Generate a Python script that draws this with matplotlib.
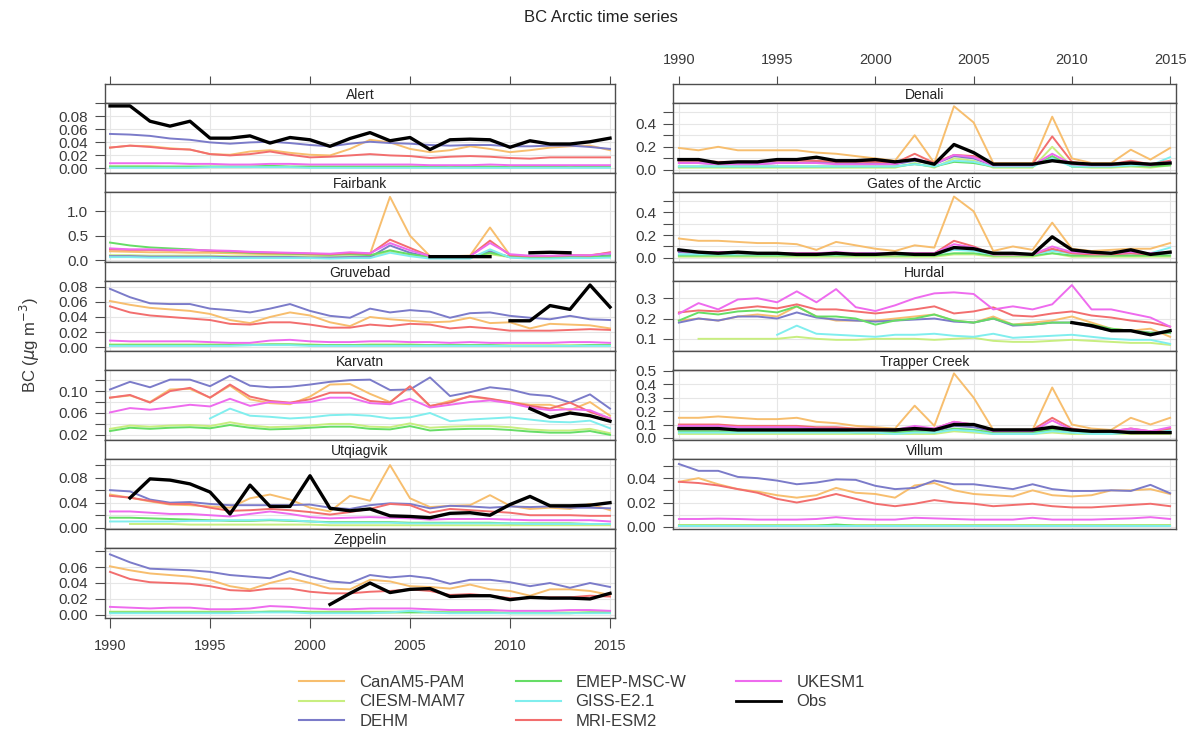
import numpy as np
import matplotlib.pyplot as plt
from matplotlib.lines import Line2D

plt.rcParams['font.family'] = ['Liberation Sans', 'DejaVu Sans']

nan = float('nan')
years = list(range(1990, 2016))
models = ['CanAM5-PAM', 'CIESM-MAM7', 'DEHM', 'EMEP-MSC-W', 'GISS-E2.1', 'MRI-ESM2', 'UKESM1', 'Obs']
colors = ['#F7BE6E', '#C8EE80', '#7B7BC9', '#66DD66', '#80EEEE', '#F26E6E', '#EE6BEE', '#000000']

# ---- Alert
alert_canam = [.032,.035,.034,.031,.029,.022,.021,.026,.028,.024,.021,.020,.030,.044,.040,.030,.025,.028,.034,.030,.025,.028,.032,.034,.035,.028]
alert_ciesm = [.003,.003,.003,.002,.002,.002,.002,.002,.003,.002,.002,.002,.002,.002,.002,.002,.002,.002,.002,.002,.002,.002,.002,.002,.002,.002]
alert_dehm = [.053,.052,.050,.046,.044,.040,.038,.040,.041,.039,.036,.034,.038,.041,.039,.038,.036,.035,.036,.036,.034,.034,.035,.035,.033,.030]
alert_emep = [.003,.003,.003,.003,.003,.003,.003,.003,.004,.003,.003,.003,.003,.003,.003,.003,.003,.002,.003,.003,.002,.003,.003,.002,.003,.003]
alert_giss = [.001,.001,.001,.001,.001,.002,.002,.002,.002,.002,.001,.001,.001,.001,.001,.001,.001,.001,.001,.001,.001,.001,.001,.001,.001,.001]
alert_mri = [.032,.035,.033,.030,.029,.022,.020,.022,.026,.021,.017,.018,.020,.022,.020,.019,.016,.018,.019,.018,.016,.015,.017,.017,.017,.017]
alert_ukesm = [.008,.008,.008,.008,.007,.007,.006,.006,.007,.007,.006,.006,.006,.006,.006,.006,.005,.005,.005,.006,.005,.005,.005,.005,.005,.005]
alert_obs = [.096,.096,.0725,.065,.0725,.0465,.0465,.050,.039,.0475,.044,.034,.046,.055,.0425,.0475,.029,.044,.045,.044,.0325,.0425,.0375,.0375,.041,.0465]

# ---- Fairbank
fair_canam = [.18,.17,.16,.16,.15,.15,.14,.13,.12,.12,.11,.10,.14,.12,1.30,.50,.08,.08,.09,.67,.10,.08,.08,.10,.10,.15]
fair_ciesm = [.10,.10,.09,.09,.09,.09,.08,.08,.08,.08,.07,.07,.08,.07,.18,.10,.05,.05,.05,.12,.06,.05,.05,.06,.06,.07]
fair_dehm = [.08,.08,.07,.07,.07,.07,.06,.06,.06,.06,.05,.05,.06,.06,.30,.15,.06,.05,.05,.18,.06,.05,.05,.06,.06,.10]
fair_emep = [.36,.30,.26,.24,.22,.19,.17,.15,.14,.13,.12,.11,.12,.10,.20,.12,.06,.05,.06,.15,.07,.05,.05,.06,.06,.08]
fair_giss = [.06,.06,.05,.05,.05,.05,.04,.04,.04,.04,.04,.03,.04,.04,.15,.08,.03,.03,.03,.22,.05,.03,.03,.04,.04,.05]
fair_mri = [.22,.21,.21,.20,.20,.19,.18,.16,.15,.14,.13,.12,.14,.13,.42,.25,.08,.07,.08,.40,.10,.08,.08,.10,.09,.16]
fair_ukesm = [.24,.22,.22,.21,.21,.20,.19,.17,.16,.15,.14,.13,.16,.14,.35,.20,.08,.07,.08,.35,.12,.09,.09,.10,.10,.14]
fair_obs = [nan,nan,nan,nan,nan,nan,nan,nan,nan,nan,nan,nan,nan,nan,nan,nan,.07,.07,.07,.07,nan,.15,.16,.15,nan,nan]

# ---- Gruvebad
gruv_canam = [.061,.056,.052,.050,.048,.044,.036,.032,.040,.046,.042,.033,.028,.040,.037,.035,.033,.034,.039,.032,.033,.025,.031,.030,.029,.025]
gruv_ciesm = [.004,.004,.004,.004,.004,.004,.004,.004,.004,.004,.004,.003,.003,.004,.004,.004,.003,.003,.003,.003,.003,.003,.003,.003,.003,.003]
gruv_dehm = [.077,.066,.058,.057,.057,.051,.049,.046,.051,.057,.048,.0415,.039,.051,.046,.049,.047,.039,.045,.046,.0415,.039,.037,.0415,.037,.036]
gruv_emep = [.003,.003,.003,.003,.003,.003,.003,.003,.004,.004,.003,.003,.003,.003,.003,.003,.003,.003,.003,.003,.002,.002,.002,.002,.003,.003]
gruv_giss = [.002,.002,.002,.002,.002,.002,.002,.003,.003,.003,.002,.002,.002,.002,.002,.002,.002,.002,.002,.002,.002,.002,.002,.002,.002,.002]
gruv_mri = [.054,.046,.042,.040,.038,.036,.031,.030,.033,.033,.030,.026,.026,.030,.028,.031,.030,.025,.027,.025,.022,.022,.022,.023,.024,.023]
gruv_ukesm = [.009,.008,.008,.008,.008,.007,.006,.006,.009,.010,.008,.007,.007,.008,.008,.007,.007,.006,.007,.006,.006,.006,.006,.007,.007,.006]
gruv_obs = [nan,nan,nan,nan,nan,nan,nan,nan,nan,nan,nan,nan,nan,nan,nan,nan,nan,nan,nan,nan,.035,.035,.055,.050,.082,.053]

# ---- Karvatn
karv_canam = [.088,.092,.080,.103,.104,.088,.110,.085,.078,.076,.090,.112,.113,.095,.080,.108,.072,.082,.090,.085,.080,.075,.075,.065,.080,.055]
karv_ciesm = [.031,.037,.035,.037,.038,.036,.043,.037,.034,.035,.037,.040,.040,.035,.034,.041,.033,.035,.036,.036,.034,.030,.028,.028,.031,.023]
karv_dehm = [.103,.117,.107,.121,.121,.109,.128,.110,.107,.108,.112,.117,.120,.121,.102,.103,.125,.091,.098,.107,.103,.094,.091,.079,.094,.068]
karv_emep = [.027,.033,.031,.033,.034,.032,.038,.033,.030,.031,.033,.035,.035,.031,.030,.036,.028,.030,.031,.031,.029,.026,.024,.024,.027,.020]
karv_giss = [nan,nan,nan,nan,nan,.050,.068,.055,.053,.050,.052,.056,.057,.055,.050,.052,.060,.045,.048,.050,.052,.048,.044,.043,.046,.032]
karv_mri = [.088,.093,.079,.100,.106,.088,.112,.090,.082,.079,.085,.097,.097,.082,.079,.109,.073,.079,.091,.086,.080,.073,.068,.079,.062,.050]
karv_ukesm = [.061,.069,.066,.070,.075,.072,.086,.073,.080,.078,.080,.088,.088,.078,.076,.086,.070,.075,.080,.083,.078,.070,.065,.067,.065,.050]
karv_obs = [nan,nan,nan,nan,nan,nan,nan,nan,nan,nan,nan,nan,nan,nan,nan,nan,nan,nan,nan,nan,nan,.068,.052,.060,.055,.045]

# ---- Utqiagvik
utq_canam = [.053,.048,.042,.037,.036,.034,.032,.047,.053,.045,.032,.026,.051,.043,.100,.047,.033,.035,.036,.052,.035,.030,.032,.030,.038,.028]
utq_ciesm = [nan,.006,.006,.006,.005,.005,.005,.005,.005,.005,.005,.004,.004,.004,.004,.004,.004,.004,.004,.004,.004,.004,.004,.004,.004,.004]
utq_dehm = [.060,.058,.045,.040,.041,.038,.036,.036,.036,.036,.037,.032,.030,.036,.039,.038,.031,.035,.034,.032,.034,.033,.034,.032,.032,.031]
utq_emep = [.016,.016,.015,.014,.013,.012,.011,.011,.012,.011,.010,.009,.009,.009,.009,.008,.008,.008,.008,.008,.007,.007,.007,.007,.006,.006]
utq_giss = [.010,.010,.010,.010,.011,.011,.012,.012,.013,.012,.010,.008,.008,.008,.008,.007,.007,.007,.007,.007,.007,.006,.006,.006,.006,.006]
utq_mri = [.051,.048,.043,.038,.038,.032,.027,.028,.030,.028,.025,.021,.025,.030,.038,.036,.024,.030,.028,.026,.024,.020,.020,.020,.019,.019]
utq_ukesm = [.026,.026,.024,.022,.022,.020,.018,.022,.026,.022,.017,.015,.016,.017,.016,.015,.013,.014,.014,.014,.013,.012,.012,.012,.012,.010]
utq_obs = [nan,.0476,.078,.076,.070,.057,.022,.068,.034,.034,.083,.031,.027,.030,.019,.018,.016,.023,.024,.020,.037,.050,.035,.035,.036,.040]

# ---- Zeppelin
zep_canam = [.061,.056,.052,.050,.048,.044,.036,.032,.040,.046,.040,.033,.032,.044,.042,.036,.035,.033,.038,.032,.030,.024,.032,.032,.030,.025]
zep_ciesm = [.004,.004,.004,.004,.004,.004,.004,.004,.004,.004,.004,.004,.004,.004,.004,.004,.004,.003,.003,.003,.003,.003,.003,.003,.003,.003]
zep_dehm = [.076,.066,.058,.057,.056,.054,.050,.048,.046,.055,.048,.042,.040,.050,.047,.049,.046,.039,.044,.044,.041,.036,.040,.034,.040,.035]
zep_emep = [.003,.003,.003,.003,.003,.003,.003,.003,.004,.004,.003,.003,.003,.003,.003,.003,.003,.003,.003,.003,.002,.002,.002,.002,.003,.003]
zep_giss = [.002,.002,.002,.002,.002,.002,.002,.003,.003,.003,.002,.002,.002,.002,.003,.005,.003,.002,.002,.002,.002,.002,.002,.002,.002,.002]
zep_mri = [.054,.045,.041,.040,.039,.036,.031,.030,.033,.033,.029,.027,.027,.029,.030,.032,.030,.025,.026,.024,.021,.021,.022,.022,.024,.023]
zep_ukesm = [.010,.009,.008,.009,.009,.007,.007,.008,.011,.010,.008,.007,.007,.008,.008,.008,.007,.006,.006,.006,.005,.005,.005,.006,.006,.005]
zep_obs = [nan,nan,nan,nan,nan,nan,nan,nan,nan,nan,nan,.013,.027,.040,.028,.032,.033,.023,.024,.024,.019,.022,.021,.021,.020,.027]

# ---- Denali
den_canam = [.19,.17,.20,.17,.17,.17,.17,.15,.14,.12,.10,.08,.30,.06,.55,.41,.06,.06,.06,.46,.10,.06,.06,.175,.09,.19]
den_ciesm = [.02,.02,.02,.02,.02,.02,.02,.02,.02,.02,.02,.02,.06,.02,.10,.08,.02,.02,.02,.20,.03,.02,.02,.03,.02,.04]
den_dehm = [.06,.06,.05,.05,.05,.06,.06,.07,.06,.06,.06,.05,.08,.05,.12,.10,.04,.04,.04,.10,.05,.04,.04,.05,.04,.06]
den_emep = [.03,.03,.03,.03,.03,.03,.03,.03,.03,.03,.03,.03,.05,.03,.07,.06,.03,.03,.03,.12,.03,.03,.03,.04,.03,.04]
den_giss = [.03,.03,.03,.03,.03,.03,.03,.03,.03,.03,.03,.03,.05,.03,.08,.07,.03,.03,.03,.10,.03,.03,.03,.04,.04,.11]
den_mri = [.08,.08,.07,.07,.07,.08,.08,.08,.07,.07,.07,.06,.14,.06,.13,.12,.05,.05,.05,.29,.07,.05,.05,.08,.05,.08]
den_ukesm = [.06,.06,.05,.05,.05,.06,.06,.06,.05,.05,.05,.05,.10,.05,.13,.11,.04,.04,.04,.14,.05,.04,.04,.06,.04,.07]
den_obs = [.09,.09,.06,.07,.07,.09,.09,.11,.08,.08,.09,.07,.09,.05,.22,.15,.05,.05,.05,.08,.06,.05,.05,.06,.05,.06]

# ---- Gates of the Arctic
gat_canam = [.17,.15,.15,.14,.13,.13,.12,.07,.14,.11,.08,.06,.11,.09,.54,.41,.06,.10,.07,.31,.08,.06,.07,.08,.08,.13]
gat_ciesm = [.01,.01,.01,.01,.01,.01,.01,.01,.01,.01,.01,.01,.01,.01,.03,.03,.01,.01,.01,.04,.01,.01,.01,.01,.01,.01]
gat_dehm = [.05,.04,.04,.04,.04,.04,.04,.04,.04,.04,.04,.03,.04,.04,.09,.08,.03,.03,.03,.07,.04,.03,.03,.04,.03,.04]
gat_emep = [.02,.02,.02,.02,.02,.02,.02,.02,.02,.02,.02,.02,.02,.02,.04,.04,.02,.02,.02,.04,.02,.02,.02,.02,.02,.02]
gat_giss = [.03,.03,.03,.03,.03,.03,.03,.03,.03,.03,.03,.03,.03,.03,.07,.06,.03,.03,.03,.06,.04,.03,.03,.04,.04,.09]
gat_mri = [.06,.05,.05,.04,.04,.04,.04,.04,.04,.04,.03,.03,.04,.04,.15,.10,.03,.03,.03,.08,.04,.03,.03,.04,.03,.05]
gat_ukesm = [.06,.05,.05,.05,.04,.04,.04,.04,.05,.04,.04,.04,.04,.04,.12,.09,.03,.03,.03,.10,.05,.04,.04,.05,.04,.05]
gat_obs = [.07,.05,.04,.05,.04,.04,.03,.03,.04,.03,.03,.04,.03,.03,.09,.08,.04,.04,.03,.185,.07,.05,.04,.07,.03,.05]

# ---- Hurdal
hur_canam = [.19,.20,.19,.21,.22,.21,.26,.21,.19,.19,.19,.20,.21,.22,.19,.18,.21,.17,.18,.19,.21,.18,.15,.14,.15,.11]
hur_ciesm = [nan,.10,.10,.10,.10,.10,.11,.10,.095,.095,.10,.10,.10,.095,.10,.105,.09,.085,.085,.09,.095,.09,.085,.08,.08,.07]
hur_dehm = [.18,.20,.19,.21,.21,.20,.23,.205,.195,.19,.185,.19,.195,.20,.185,.18,.20,.165,.17,.18,.18,.16,.14,.14,.13,.13]
hur_emep = [.19,.23,.22,.235,.24,.23,.26,.21,.21,.20,.17,.19,.20,.22,.19,.18,.20,.17,.17,.18,.18,.17,.15,.14,.13,.13]
hur_giss = [nan,nan,nan,nan,nan,.12,.165,.125,.12,.115,.11,.12,.12,.125,.115,.11,.125,.105,.11,.115,.12,.11,.10,.095,.095,.075]
hur_mri = [.23,.24,.235,.25,.26,.25,.27,.245,.245,.235,.225,.235,.245,.26,.225,.235,.255,.215,.21,.225,.235,.215,.205,.19,.18,.16]
hur_ukesm = [.224,.276,.245,.294,.30,.28,.334,.28,.345,.256,.237,.265,.30,.324,.329,.321,.245,.26,.245,.27,.365,.245,.245,.225,.205,.16]
hur_obs = [nan,nan,nan,nan,nan,nan,nan,nan,nan,nan,nan,nan,nan,nan,nan,nan,nan,nan,nan,nan,.18,.165,.14,.14,.12,.14]

# ---- Trapper Creek
trap_canam = [.15,.15,.16,.15,.14,.14,.15,.12,.11,.09,.08,.07,.24,.09,.48,.30,.06,.06,.06,.375,.10,.07,.06,.15,.10,.15]
trap_ciesm = [.03,.03,.03,.03,.03,.03,.03,.03,.03,.03,.03,.03,.03,.03,.05,.04,.03,.03,.03,.04,.03,.03,.03,.03,.03,.03]
trap_dehm = [.07,.07,.07,.06,.06,.06,.06,.06,.06,.06,.06,.05,.06,.05,.09,.08,.05,.05,.05,.07,.05,.04,.04,.05,.05,.06]
trap_emep = [.05,.05,.05,.05,.05,.05,.05,.05,.05,.04,.04,.04,.05,.04,.07,.06,.04,.04,.04,.06,.04,.04,.04,.04,.04,.04]
trap_giss = [.04,.04,.04,.04,.04,.04,.04,.04,.04,.04,.04,.03,.04,.04,.06,.05,.03,.03,.03,.05,.04,.03,.03,.04,.04,.06]
trap_mri = [.10,.10,.10,.09,.09,.09,.09,.08,.08,.07,.07,.06,.08,.07,.12,.10,.06,.06,.06,.15,.07,.05,.05,.07,.05,.07]
trap_ukesm = [.09,.09,.09,.08,.08,.08,.08,.07,.07,.06,.06,.06,.09,.07,.12,.10,.05,.05,.05,.13,.06,.05,.05,.07,.05,.08]
trap_obs = [.07,.07,.07,.06,.06,.06,.06,.06,.06,.06,.06,.06,.07,.06,.10,.10,.06,.06,.06,.08,.06,.05,.05,.04,.04,.04]

# ---- Villum
vil_canam = [.037,.040,.035,.031,.029,.026,.024,.026,.032,.028,.027,.024,.034,.036,.030,.027,.026,.025,.030,.026,.025,.026,.030,.030,.031,.027]
vil_ciesm = [.0015,.0015,.0015,.0015,.0015,.0015,.0015,.0015,.0015,.0015,.0015,.0015,.0015,.0015,.0015,.0015,.0015,.0015,.0015,.0015,.0015,.0015,.0015,.0015,.0015,.0015]
vil_dehm = [.0516,.046,.046,.041,.040,.038,.035,.0364,.039,.0386,.0337,.031,.032,.038,.035,.035,.033,.031,.035,.031,.0295,.0295,.030,.0295,.0345,.0276]
vil_emep = [.001,.001,.001,.001,.001,.001,.001,.001,.002,.001,.001,.001,.001,.001,.001,.001,.001,.001,.001,.001,.001,.001,.001,.001,.001,.001]
vil_giss = [.0005,.0005,.0005,.0005,.0005,.0005,.0005,.0005,.0005,.0005,.0005,.0005,.0005,.0005,.0005,.0005,.0005,.0005,.0005,.0005,.0005,.0005,.0005,.0005,.0005,.0005]
vil_mri = [.037,.036,.034,.031,.028,.023,.020,.023,.027,.023,.019,.017,.019,.022,.020,.019,.017,.018,.019,.017,.016,.016,.017,.018,.019,.017]
vil_ukesm = [.0065,.0065,.0068,.0065,.006,.006,.006,.0065,.008,.0065,.006,.006,.0075,.007,.0065,.006,.006,.006,.0075,.006,.006,.006,.0065,.007,.008,.0065]
vil_obs = [nan] * 26

stations = {
    'Alert': [alert_canam, alert_ciesm, alert_dehm, alert_emep, alert_giss, alert_mri, alert_ukesm, alert_obs],
    'Fairbank': [fair_canam, fair_ciesm, fair_dehm, fair_emep, fair_giss, fair_mri, fair_ukesm, fair_obs],
    'Gruvebad': [gruv_canam, gruv_ciesm, gruv_dehm, gruv_emep, gruv_giss, gruv_mri, gruv_ukesm, gruv_obs],
    'Karvatn': [karv_canam, karv_ciesm, karv_dehm, karv_emep, karv_giss, karv_mri, karv_ukesm, karv_obs],
    'Utqiagvik': [utq_canam, utq_ciesm, utq_dehm, utq_emep, utq_giss, utq_mri, utq_ukesm, utq_obs],
    'Zeppelin': [zep_canam, zep_ciesm, zep_dehm, zep_emep, zep_giss, zep_mri, zep_ukesm, zep_obs],
    'Denali': [den_canam, den_ciesm, den_dehm, den_emep, den_giss, den_mri, den_ukesm, den_obs],
    'Gates of the Arctic': [gat_canam, gat_ciesm, gat_dehm, gat_emep, gat_giss, gat_mri, gat_ukesm, gat_obs],
    'Hurdal': [hur_canam, hur_ciesm, hur_dehm, hur_emep, hur_giss, hur_mri, hur_ukesm, hur_obs],
    'Trapper Creek': [trap_canam, trap_ciesm, trap_dehm, trap_emep, trap_giss, trap_mri, trap_ukesm, trap_obs],
    'Villum': [vil_canam, vil_ciesm, vil_dehm, vil_emep, vil_giss, vil_mri, vil_ukesm, vil_obs],
}

# panel y limits, tick positions, labelled ticks
yaxes = {
    'Alert': ((-0.007, 0.1005), [0, .02, .04, .06, .08, .10], [0, .02, .04, .06, .08], '%.2f'),
    'Fairbank': ((-0.04, 1.40), [0, .5, 1.0], [0, .5, 1.0], '%.1f'),
    'Gruvebad': ((-0.0047, 0.0873), [0, .02, .04, .06, .08], [0, .02, .04, .06, .08], '%.2f'),
    'Karvatn': ((0.0106, 0.1386), [.02, .04, .06, .08, .10, .12], [.02, .06, .10], '%.2f'),
    'Utqiagvik': ((-0.002, 0.1097), [0, .02, .04, .06, .08, .10], [0, .04, .08], '%.2f'),
    'Zeppelin': ((-0.004, 0.084), [0, .02, .04, .06, .08], [0, .02, .04, .06], '%.2f'),
    'Denali': ((-0.026, 0.578), [0, .1, .2, .3, .4, .5], [0, .2, .4], '%.1f'),
    'Gates of the Arctic': ((-0.037, 0.58), [0, .1, .2, .3, .4, .5], [0, .2, .4], '%.1f'),
    'Hurdal': ((0.04, 0.385), [.1, .2, .3], [.1, .2, .3], '%.1f'),
    'Trapper Creek': ((-0.015, 0.505), [0, .1, .2, .3, .4, .5], [0, .1, .2, .3, .4, .5], '%.1f'),
    'Villum': ((-0.0017, 0.0557), [0, .01, .02, .03, .04, .05], [0, .02, .04], '%.2f'),
}

left_col = ['Alert', 'Fairbank', 'Gruvebad', 'Karvatn', 'Utqiagvik', 'Zeppelin']
right_col = ['Denali', 'Gates of the Arctic', 'Hurdal', 'Trapper Creek', 'Villum']

W, H = 1202, 738
fig = plt.figure(figsize=(W / 100, H / 100), dpi=100)
frame = '#4d4d4d'
txt = '#3a3a3a'

cols = [(105, 615, (1989.75, 2015.25)), (673, 1176, (1989.7, 2015.3))]
xt = [1990, 1995, 2000, 2005, 2010, 2015]


def box(ax):
    for s in ax.spines.values():
        s.set_color(frame)
        s.set_linewidth(1.0)


for c, names in enumerate([left_col, right_col]):
    x0, x1, xl = cols[c]
    for r, name in enumerate(names):
        top = 84 + 89 * r
        strip = fig.add_axes([x0 / W, 1 - (top + 19) / H, (x1 - x0) / W, 19 / H])
        strip.set_xlim(*xl)
        strip.set_yticks([])
        strip.set_xticks([])
        box(strip)
        strip.text(0.5, 0.42, name, transform=strip.transAxes, ha='center', va='center',
                   fontsize=10, color='#222222')
        if r == 0:
            strip.set_xticks(xt)
            strip.tick_params(axis='x', which='both', top=True, bottom=False, labeltop=(c == 1),
                              labelbottom=False, direction='out', length=6, color=frame,
                              labelsize=10.5, labelcolor=txt, pad=6)

        ax = fig.add_axes([x0 / W, 1 - (top + 89) / H, (x1 - x0) / W, 70 / H])
        ylim, ticks, labs, fmt = yaxes[name]
        ax.set_xlim(*xl)
        ax.set_ylim(*ylim)
        for t in ticks:
            ax.axhline(t, color='#e6e6e6', lw=0.8, zorder=0)
        for t in xt:
            ax.axvline(t, color='#e6e6e6', lw=0.8, zorder=0)
        for m, series in enumerate(stations[name]):
            vals = np.array(series, dtype=float)
            ax.plot(years, vals, color=colors[m], lw=2.4 if m == 7 else 1.4, zorder=2 + m)
        ax.set_yticks(ticks)
        ax.set_yticklabels([fmt % t if any(abs(t - l) < 1e-9 for l in labs) else '' for t in ticks])
        ax.tick_params(axis='y', direction='out', length=7, color=frame, labelsize=11,
                       labelcolor=txt, pad=5)
        box(ax)
        if c == 0 and r == len(names) - 1:
            ax.set_xticks(xt)
            ax.tick_params(axis='x', direction='out', length=7, color=frame, labelsize=10.5,
                           labelcolor=txt, pad=8)
        else:
            ax.set_xticks([])

fig.text(601 / W, 1 - 18 / H, 'BC Arctic time series', ha='center', va='center', fontsize=12,
         color='#222222')
fig.text(30 / W, 1 - 345 / H, r'BC ($\mu$g m$^{-3}$)', rotation=90, ha='center', va='center',
         fontsize=12, color=txt)

handles = [Line2D([], [], color=colors[i], lw=2.0 if i == 7 else 1.5) for i in range(8)]
fig.legend(handles, models, loc='center', bbox_to_anchor=(582 / W, 1 - 702 / H), ncol=3,
           frameon=False, fontsize=12, handlelength=2.7, handletextpad=0.9, columnspacing=3.0,
           labelspacing=0.26, labelcolor=txt)

fig.savefig('out.png', dpi=100)
